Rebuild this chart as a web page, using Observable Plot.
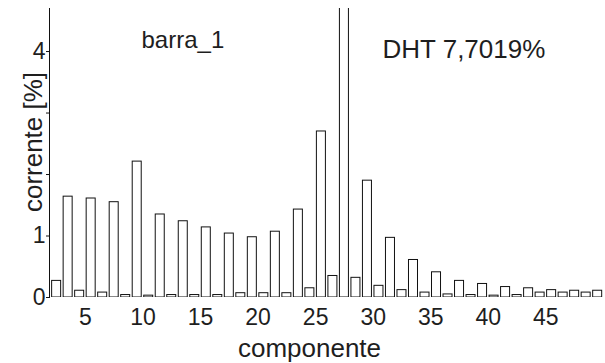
<!DOCTYPE html>
<html>
<head>
<meta charset="utf-8">
<script src="https://cdn.jsdelivr.net/npm/d3@7"></script>
<script src="https://cdn.jsdelivr.net/npm/@observablehq/plot@0.6"></script>
<style>
  html, body { margin: 0; padding: 0; background: #fff; }
</style>
</head>
<body>
<div id="chart"></div>
<script>
// harmonic components (bar drawn over [h, h+1])
const componentes = [2,3,4,5,6,7,8,9,10,11,12,13,14,15,16,17,18,19,20,21,22,23,24,25,26,27,28,29,30,31,32,33,34,35,36,37,38,39,40,41,42,43,44,45,46,47,48,49];
// current in % of fundamental (component 27 exceeds the plot top and is clipped)
const corrente = [0.27,1.64,0.11,1.61,0.08,1.55,0.04,2.21,0.03,1.35,0.04,1.24,0.04,1.14,0.04,1.04,0.07,0.98,0.07,1.07,0.07,1.43,0.15,2.70,0.35,5.00,0.32,1.90,0.19,0.97,0.12,0.61,0.08,0.41,0.05,0.27,0.04,0.22,0.03,0.17,0.04,0.15,0.08,0.12,0.08,0.11,0.08,0.11];
const xTicks = [5,10,15,20,25,30,35,40,45];
const yTicks = [0,1,2,3,4];
const yTickLabels = ["0","1","","","4"];
const titulo = "barra_1";
const dht = "DHT 7,7019%";
const xLabel = "componente";
const yLabel = "corrente [%]";

const data = componentes.map((h, i) => ({h, v: corrente[i]}));
const font = "'Liberation Sans', Arial, sans-serif";
const ink = "#1e1e1e";

const chart = Plot.plot({
  width: 605,
  height: 363,
  marginLeft: 49,
  marginRight: 0,
  marginTop: 8,
  marginBottom: 66,
  style: {fontFamily: font, color: ink, background: "#fff"},
  x: {domain: [1.88, 50.18], label: null},
  y: {domain: [0, 4.70], label: null},
  marks: [
    Plot.rectY(data, {x: "h", y: "v", interval: 1, insetLeft: 1.25, insetRight: 1.25, fill: "white", stroke: "#111", strokeWidth: 1, clip: true}),
    Plot.frame({anchor: "left", stroke: "#111"}),
    Plot.axisY({ticks: yTicks, tickFormat: (d) => yTickLabels[yTicks.indexOf(d)], tickSize: 3, tickPadding: 1, fontSize: 23, stroke: "#111", fill: ink}),
    Plot.axisX({ticks: xTicks, tickSize: 0, tickPadding: 11, fontSize: 23, fill: ink}),
    Plot.text([xLabel], {text: d => d, frameAnchor: "bottom", textAnchor: "middle", lineAnchor: "bottom", dx: -18, dy: 59, fontSize: 26, fill: ink}),
    Plot.text([yLabel], {text: d => d, frameAnchor: "left", textAnchor: "middle", lineAnchor: "bottom", rotate: -90, dx: -8, dy: -11, fontSize: 26, fill: ink}),
    Plot.text([titulo], {text: d => d, frameAnchor: "top-left", textAnchor: "start", lineAnchor: "bottom", dx: 92, dy: 39, fontSize: 24, fill: ink}),
    Plot.text([dht], {text: d => d, frameAnchor: "top-left", textAnchor: "start", lineAnchor: "bottom", dx: 333, dy: 49, fontSize: 26, fill: ink})
  ]
});
document.getElementById("chart").appendChild(chart);
</script>
</body>
</html>
